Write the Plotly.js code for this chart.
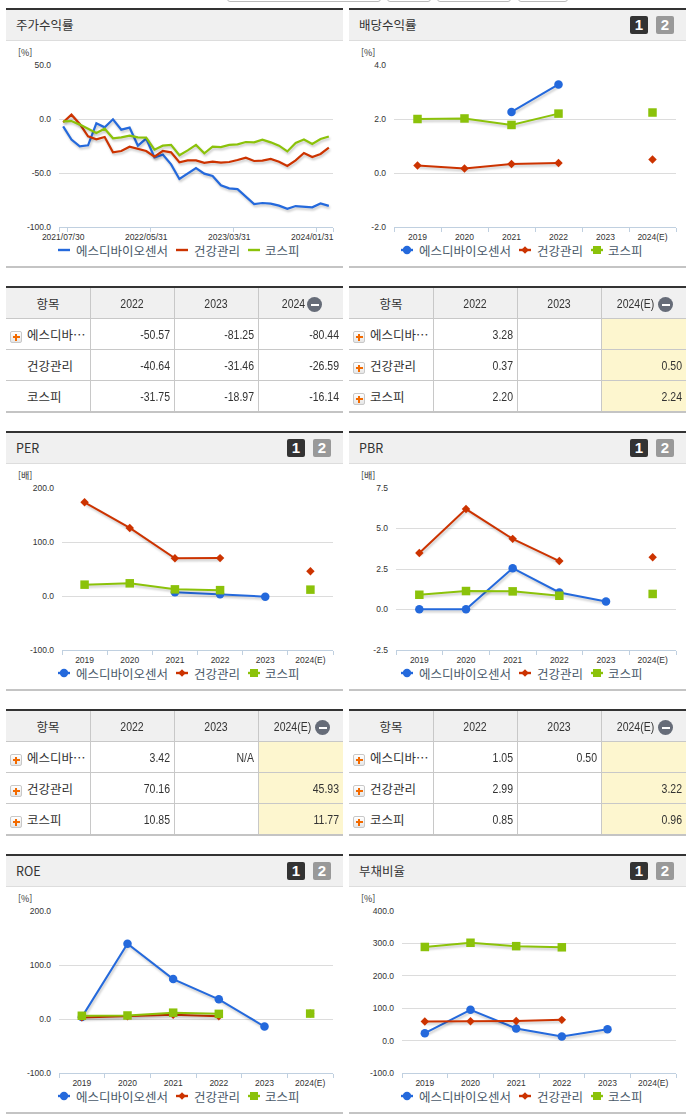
<!DOCTYPE html>
<html lang="ko">
<head>
<meta charset="utf-8">
<title>주가수익률</title>
<script src="https://cdn.plot.ly/plotly-3.0.1.min.js"></script>
<style>
html,body{margin:0;padding:0;background:#fff;width:691px;height:1115px;overflow:hidden}
body{position:relative;font-family:"Noto Sans CJK KR","Noto Sans",sans-serif;color:#333}
.abs{position:absolute;box-sizing:border-box}
.topbtn{top:-10px;height:11.5px;border:1px solid #bbb;border-radius:3px;background:#fff}
.topbar{height:2px;background:#333}
.head{background:#f0f0f0;border-bottom:1px solid #ddd}
.htitle{font-size:12.5px;line-height:16px;color:#333;white-space:nowrap}
.btn{width:18px;height:18px;border-radius:2px;color:#fff;font:bold 15px/18px "Liberation Sans",sans-serif;text-align:center}
.botbar{height:2px;background:#c4c4c4}
.chart{position:absolute}
.js-line{filter:drop-shadow(1px 2px 1px rgba(0,0,0,.22))}
.cell{position:absolute;box-sizing:border-box;white-space:nowrap}
.num{font:12.5px/16px "Liberation Sans",sans-serif;color:#333;text-align:right;transform:scaleX(.84);transform-origin:right center}
.lab{font-size:12.5px;line-height:16px;color:#333}
.hd{font-size:12.5px;line-height:16px;color:#333;text-align:center}
.hdn{font:12.5px/16px "Liberation Sans",sans-serif;color:#333;text-align:center;transform:scaleX(.84);transform-origin:center center}
.plus{width:12px;height:12px;border:1px solid #c8c8c8;border-radius:2px;
 background:linear-gradient(#f26a00,#f26a00) center/7px 2px no-repeat,linear-gradient(#f26a00,#f26a00) center/2px 7px no-repeat,linear-gradient(#fff,#e6e6e6)}
.minus{width:15px;height:15px;border-radius:50%;background:linear-gradient(#fff,#fff) center/8px 2px no-repeat,#666c78}
</style>
</head>
<body>
<script>
// ---------- series names and colours ----------
const seriesNames = ['에스디바이오센서', '건강관리', '코스피'];
const seriesColors = ['#2469dc', '#cc3300', '#8bc20a'];
const seriesSymbols = ['circle', 'diamond', 'square'];
const markerSizes = [8.5, 6.5, 8.5];

// ---------- stock return (monthly) ----------
const returnTickIdx = [0, 10, 20, 30];
const returnTickText = ['2021/07/30', '2022/05/31', '2023/03/31', '2024/01/31'];
const returnBlue = [-6.8,-19,-25.3,-24.4,-4,-7.7,-0.3,-9.9,-8,-24.7,-18.2,-35.5,-33,-42,-55.5,-50.5,-45.4,-50.57,-52.8,-61.4,-64.2,-64.9,-71.6,-78.7,-77.8,-78.4,-80.2,-83.2,-80.6,-81.25,-81.8,-78.2,-80.44];
const returnRed = [-3,4,-4.6,-16,-18.8,-16.7,-30.9,-29.6,-25.6,-27.8,-29.6,-34.9,-29.6,-30.9,-40.1,-38.3,-38.3,-40.64,-39.5,-40.4,-39.8,-38,-35.8,-38.9,-38.6,-37,-39.5,-43.5,-38.3,-31.46,-35.2,-32.4,-26.59];
const returnGreen = [-2.2,-1.9,-5.2,-9,-13,-9,-17.9,-17,-15.4,-17,-17.3,-28.4,-24.7,-24,-33.6,-29,-24,-31.75,-25.6,-26,-24,-23.5,-21.3,-21.6,-19.1,-21.6,-24.7,-30,-22.2,-18.97,-23.1,-18.5,-16.14];

// ---------- annual series ----------
const years = ['2019', '2020', '2021', '2022', '2023', '2024(E)'];
const dividendBlue = [null, null, 2.26, 3.28, null, null];
const dividendRed = [0.28, 0.17, 0.33, 0.37, null, 0.50];
const dividendGreen = [2.0, 2.02, 1.78, 2.20, null, 2.24];
const perBlue = [null, null, 6.8, 3.42, -1.2, null];
const perRed = [173.5, 126, 69.8, 70.16, null, 45.93];
const perGreen = [21, 23.5, 12.3, 10.85, null, 11.77];
const pbrBlue = [0.02, 0.02, 2.55, 1.05, 0.50, null];
const pbrRed = [3.49, 6.2, 4.36, 2.99, null, 3.22];
const pbrGreen = [0.91, 1.14, 1.12, 0.85, null, 0.96];
const roeBlue = [3.5, 139.5, 74, 36.4, -14, null];
const roeRed = [3, 5, 8, 5, null, 10];
const roeGreen = [6, 6.5, 11.7, 9.5, null, 10];
const debtBlue = [23, 95, 37.5, 12.5, 35, null];
const debtRed = [59, 60, 60.5, 64, null, null];
const debtGreen = [289, 302, 291.5, 288, null, null];

// ---------- table cells ----------
const tableLabels = ['에스디바⋯', '건강관리', '코스피'];
const returnTableHead = ['항목', '2022', '2023', '2024'];
const returnTableRows = [['-50.57','-81.25','-80.44'],['-40.64','-31.46','-26.59'],['-31.75','-18.97','-16.14']];
const dividendTableHead = ['항목', '2022', '2023', '2024(E)'];
const dividendTableRows = [['3.28','',''],['0.37','','0.50'],['2.20','','2.24']];
const perTableHead = ['항목', '2022', '2023', '2024(E)'];
const perTableRows = [['3.42','N/A',''],['70.16','','45.93'],['10.85','','11.77']];
const pbrTableHead = ['항목', '2022', '2023', '2024(E)'];
const pbrTableRows = [['1.05','0.50',''],['2.99','','3.22'],['0.85','','0.96']];

// ---------- page helpers ----------
const PANEL_W = 337, PANEL_H = 260;
function div(cls, x, y, w, h, html, extra) {
  const d = document.createElement('div');
  d.className = cls;
  d.style.left = x + 'px'; d.style.top = y + 'px';
  if (w != null) d.style.width = w + 'px';
  if (h != null) d.style.height = h + 'px';
  if (html != null) d.textContent = html;
  if (extra) Object.assign(d.style, extra);
  document.body.appendChild(d);
  return d;
}

function panelFrame(x, y, title, hasButtons) {
  div('abs topbar', x, y, PANEL_W, 2);
  div('abs head', x, y + 2, PANEL_W, 31);
  div('abs htitle', x + 10, y + 9, null, null, title);
  if (hasButtons) {
    div('abs btn', x + 281, y + 8, null, null, '1', {background: '#333'});
    div('abs btn', x + 307, y + 8, null, null, '2', {background: '#999'});
  }
  div('abs botbar', x, y + 258, PANEL_W, 2);
}

function chart(o) {
  panelFrame(o.x, o.y, o.title, o.buttons);
  const host = document.createElement('div');
  host.className = 'chart';
  host.style.cssText = `left:${o.x}px;top:${o.y + 33}px;width:${PANEL_W}px;height:${PANEL_H - 35}px`;
  document.body.appendChild(host);

  const W = PANEL_W, H = PANEL_H - 35, yOff = o.y + 33;
  const m = {l: o.left - o.x, r: o.x + W - o.right, t: o.top - yOff, b: yOff + H - o.bottom};
  const fx = p => (p - m.l) / (W - m.l - m.r);
  const fy = p => 1 - (p - m.t) / (H - m.t - m.b);

  const n = o.series[0].length;
  const xs = Array.from({length: n}, (_, i) => i);
  const traces = o.series.map((v, i) => ({
    x: xs, y: v, name: seriesNames[i], type: 'scatter',
    mode: o.markers ? 'lines+markers' : 'lines',
    line: {color: seriesColors[i], width: o.markers ? 2 : 2.2},
    marker: {color: seriesColors[i], symbol: seriesSymbols[i], size: markerSizes[i], line: {width: 0}},
    connectgaps: false, hoverinfo: 'skip', cliponaxis: false
  }));

  // legend row drawn with the library's annotations and shapes
  const keyX = [58, 176, 248], textX = [69, 187, 258], legY = 242 - 33;
  const shapes = [], annotations = [];
  seriesNames.forEach((nm, i) => {
    const cx = keyX[i], cy = legY, col = seriesColors[i];
    shapes.push({type: 'line', xref: 'paper', yref: 'paper', x0: fx(cx - 6), x1: fx(cx + 6), y0: fy(cy), y1: fy(cy),
      line: {color: col, width: 2.4}});
    if (o.markers) {
      if (i === 0) shapes.push({type: 'circle', xref: 'paper', yref: 'paper', x0: fx(cx - 4.2), x1: fx(cx + 4.2), y0: fy(cy - 4.2), y1: fy(cy + 4.2), fillcolor: col, line: {width: 0}});
      if (i === 1) shapes.push({type: 'path', xref: 'paper', yref: 'paper', fillcolor: col, line: {width: 0},
        path: `M${fx(cx - 3.8)},${fy(cy)}L${fx(cx)},${fy(cy - 3.8)}L${fx(cx + 3.8)},${fy(cy)}L${fx(cx)},${fy(cy + 3.8)}Z`});
      if (i === 2) shapes.push({type: 'rect', xref: 'paper', yref: 'paper', x0: fx(cx - 4), x1: fx(cx + 4), y0: fy(cy - 4), y1: fy(cy + 4), fillcolor: col, line: {width: 0}});
    }
    annotations.push({text: nm, xref: 'paper', yref: 'paper', x: fx(textX[i]), y: fy(cy), xanchor: 'left', yanchor: 'middle',
      showarrow: false, borderpad: 0, font: {family: '"Noto Sans CJK KR"', size: 12.5, color: '#4a5a6a'}});
  });
  annotations.push({text: o.unit, xref: 'paper', yref: 'paper', x: fx(10.5), y: fy(11.5), xanchor: 'left', yanchor: 'middle',
    showarrow: false, borderpad: 0, font: {family: '"Noto Sans CJK KR"', size: 9, color: '#333'}});

  const layout = {
    width: W, height: H, margin: m, showlegend: false,
    paper_bgcolor: 'rgba(0,0,0,0)', plot_bgcolor: 'rgba(0,0,0,0)',
    font: {family: '"Liberation Sans"', size: 8.5, color: '#333'},
    xaxis: {
      type: 'linear', range: [-0.5, n - 0.5], tickmode: 'array', tickvals: o.tickVals, ticktext: o.tickText,
      ticks: '', ticklen: 0, ticklabelstandoff: 2, tickangle: 0, showgrid: false, zeroline: false,
      showline: true, linecolor: '#c0d0e0', linewidth: 1,
      minor: {tickmode: 'array', tickvals: o.minorTicks, ticks: 'outside', ticklen: 4, tickcolor: '#c0d0e0', tickwidth: 1, showgrid: false}
    },
    yaxis: {
      range: o.yRange, tickmode: 'array', tickvals: o.yTicks, ticktext: o.yTicks.map(v => v.toFixed(1)),
      ticks: '', ticklabelstandoff: 7, showgrid: true, gridcolor: '#dcdcdc', gridwidth: 1,
      zeroline: false, showline: false
    },
    shapes, annotations
  };
  Plotly.newPlot(host, traces, layout, {staticPlot: true, displayModeBar: false, responsive: false});
}

function table(o) {
  const x = o.x, y = o.y, cols = o.cols;
  const right = x + PANEL_W;
  div('abs topbar', x, y, PANEL_W, 2);
  div('abs', x, y + 2, PANEL_W, 30, null, {background: '#f0f0f0'});
  if (o.yellow) div('abs', cols[2], y + 33, right - cols[2], 92, null, {background: '#fdf6cf'});
  [y + 32, y + 63, y + 94].forEach(ly => div('abs', x, ly, PANEL_W, 1, null, {background: '#c8c8c8'}));
  cols.forEach(cx => div('abs', cx, y + 2, 1, 123, null, {background: '#c8c8c8'}));
  div('abs botbar', x, y + 125, PANEL_W, 2);

  const edges = [x, cols[0], cols[1], cols[2], right];
  o.head.forEach((t, i) => {
    const isWord = i === 0;
    const shift = i === 3 ? o.lastHeadShift : 0;
    div('cell ' + (isWord ? 'hd' : 'hdn'), edges[i] + shift, y + 10, edges[i + 1] - edges[i], null, t);
  });
  div('abs minus', o.minusX, y + 11, null, null);
  tableLabels.forEach((lab, r) => {
    const ry = y + 33 + r * 31;
    if (o.plus[r]) div('abs plus', x + 4, ry + 12, null, null);
    div('cell lab', x + 21, ry + 8, null, null, lab);
    o.rows[r].forEach((v, c) => {
      if (!v) return;
      div('cell num', edges[c + 1], ry + 8, edges[c + 2] - edges[c + 1] - 4, null, v);
    });
  });
}

// ---------- top edge of the control row, cut off by the picture ----------
[[227, 154], [387, 44], [437, 74], [518, 50]].forEach(b => div('abs topbtn', b[0], -10, b[1], null));

const annualTicks = [0, 1, 2, 3, 4, 5];
const annualMinor = [-0.5, 0.5, 1.5, 2.5, 3.5, 4.5, 5.5];

chart({x: 6, y: 8, title: '주가수익률', buttons: false, unit: '[%]', markers: false,
  left: 59, right: 333, top: 65, bottom: 227, yRange: [-100, 50], yTicks: [-100, -50, 0, 50],
  series: [returnBlue, returnRed, returnGreen],
  tickVals: returnTickIdx, tickText: returnTickText, minorTicks: [-0.5, 0.5, 10.5, 20.5, 30.5, 32.5]});
chart({x: 349, y: 8, title: '배당수익률', buttons: true, unit: '[%]', markers: true,
  left: 394, right: 676, top: 65, bottom: 227, yRange: [-2, 4], yTicks: [-2, 0, 2, 4],
  series: [dividendBlue, dividendRed, dividendGreen],
  tickVals: annualTicks, tickText: years, minorTicks: annualMinor});
chart({x: 6, y: 431, title: 'PER', buttons: true, unit: '[배]', markers: true,
  left: 62, right: 333, top: 488, bottom: 650, yRange: [-100, 200], yTicks: [-100, 0, 100, 200],
  series: [perBlue, perRed, perGreen],
  tickVals: annualTicks, tickText: years, minorTicks: annualMinor});
chart({x: 349, y: 431, title: 'PBR', buttons: true, unit: '[배]', markers: true,
  left: 396, right: 676, top: 488, bottom: 650, yRange: [-2.5, 7.5], yTicks: [-2.5, 0, 2.5, 5, 7.5],
  series: [pbrBlue, pbrRed, pbrGreen],
  tickVals: annualTicks, tickText: years, minorTicks: annualMinor});
chart({x: 6, y: 854, title: 'ROE', buttons: true, unit: '[%]', markers: true,
  left: 59, right: 333, top: 911, bottom: 1073, yRange: [-100, 200], yTicks: [-100, 0, 100, 200],
  series: [roeBlue, roeRed, roeGreen],
  tickVals: annualTicks, tickText: years, minorTicks: annualMinor});
chart({x: 349, y: 854, title: '부채비율', buttons: true, unit: '[%]', markers: true,
  left: 402, right: 676, top: 911, bottom: 1073, yRange: [-100, 400], yTicks: [-100, 0, 100, 200, 300, 400],
  series: [debtBlue, debtRed, debtGreen],
  tickVals: annualTicks, tickText: years, minorTicks: annualMinor});

table({x: 6, y: 286, cols: [90, 174, 258], head: returnTableHead, rows: returnTableRows, plus: [1, 0, 0], minusX: 307, lastHeadShift: -7.5, yellow: false});
table({x: 349, y: 286, cols: [433, 517, 601], head: dividendTableHead, rows: dividendTableRows, plus: [1, 1, 1], minusX: 658, lastHeadShift: -8.5, yellow: true});
table({x: 6, y: 709, cols: [90, 174, 258], head: perTableHead, rows: perTableRows, plus: [1, 1, 1], minusX: 315, lastHeadShift: -8.5, yellow: true});
table({x: 349, y: 709, cols: [433, 517, 601], head: pbrTableHead, rows: pbrTableRows, plus: [1, 1, 1], minusX: 658, lastHeadShift: -8.5, yellow: true});
</script>
</body>
</html>
